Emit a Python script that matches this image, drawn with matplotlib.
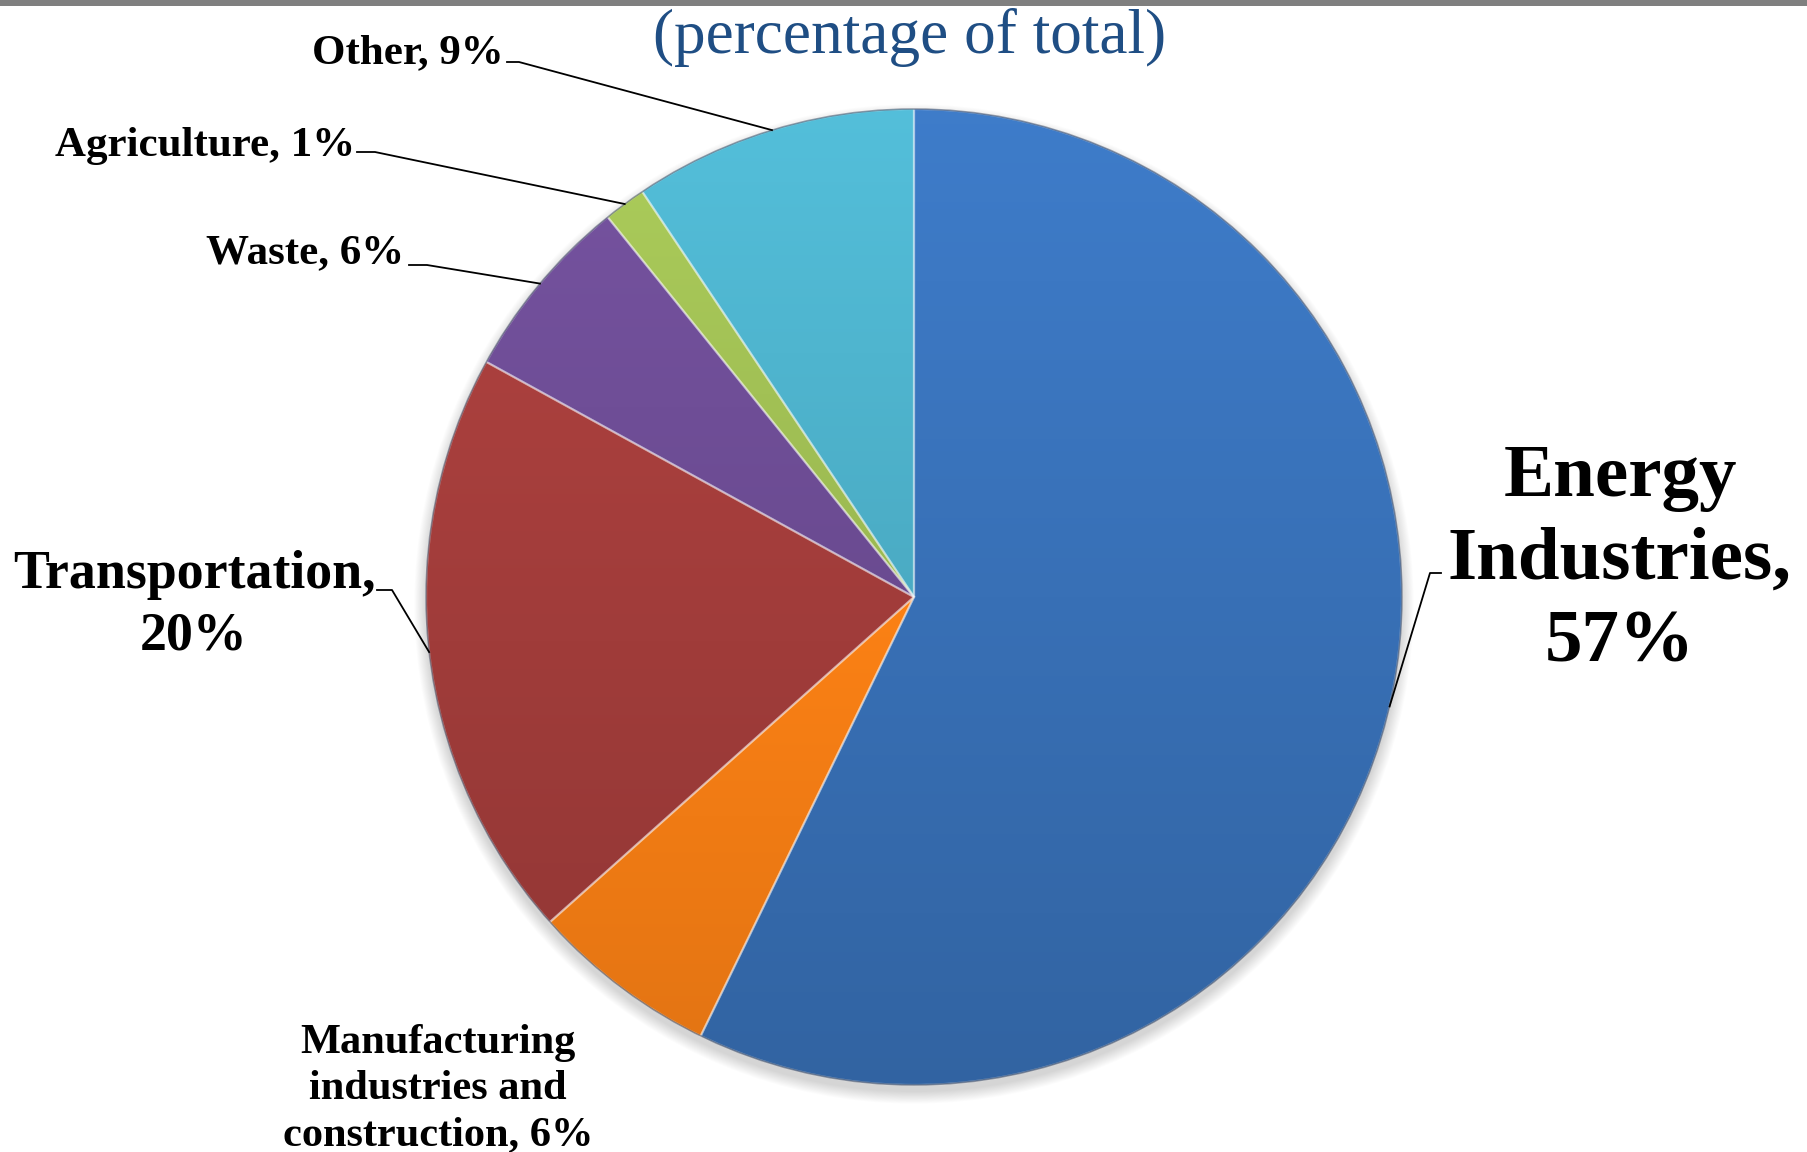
import numpy as np
import matplotlib.pyplot as plt
from matplotlib.colors import to_rgb
from matplotlib.patches import Circle, Rectangle

# share of emissions by sector (percentage of total)
sectors = ["Energy Industries", "Manufacturing industries and construction",
           "Transportation", "Waste", "Agriculture", "Other"]
shares = [57.2, 6.2, 19.6, 6.2, 1.4, 9.4]
colors = ["#3870B6", "#F07B14", "#A03C3A", "#6F4E97", "#A2C155", "#4FB5CF"]
title = "(percentage of total)"

W, H = 1808, 1152
plt.rcParams["font.family"] = "Liberation Serif"

fig = plt.figure(figsize=(W / 100, H / 100), dpi=100)
ax = fig.add_axes([0, 0, 1, 1])


def Y(y):
    return H - y


cx, cy, r = 914, Y(597), 488

# soft shadow under the pie
for k in range(14):
    ax.add_patch(Circle((cx, cy - 7), r + k * 0.9, color="k", alpha=0.012,
                        lw=0, zorder=0))

wedges, _ = ax.pie(shares, colors=colors, startangle=90, counterclock=False,
                   center=(cx, cy), radius=r,
                   wedgeprops=dict(edgecolor="none"))

# vertical gradient inside every slice, stronger for taller slices
grad = np.linspace(0, 1, 256)[:, None, None]
for w, c in zip(wedges, colors):
    base = np.array(to_rgb(c))
    bb = w.get_path().get_extents(w.get_patch_transform())
    span = 0.22 * bb.height / (2 * r)
    top = np.clip(base * (1.0 + span / 2), 0, 1)
    bot = base * (1.0 - span / 2)
    img = top * (1 - grad) + bot * grad
    im = ax.imshow(img, extent=[bb.x0, bb.x1, bb.y0, bb.y1], origin="upper",
                   interpolation="bilinear", zorder=2)
    im.set_clip_path(w)
    w.set_facecolor("none")
    w.set_edgecolor((1, 1, 1, 0.35))
    w.set_linewidth(1.6)
    w.set_zorder(3)

ax.add_patch(Circle((cx, cy), r, fc="none", ec=(0.15, 0.2, 0.3, 0.45), lw=1.2,
                    zorder=3))

# labels: (text, x, baseline y of last line, size, ha, leader start)
pct = [f"{v:.0f}%" for v in shares]
labels = [
    ("Energy\nIndustries,\n" + pct[0], 1620, 661, 54, "center", [(1441, 573), (1430, 573)]),
    ("Manufacturing\nindustries and\nconstruction, " + pct[1], 438, 1145, 30.5, "center", None),
    ("Transportation,\n" + pct[2], 194, 649, 38.8, "center", [(377, 590), (392, 590)]),
    ("Waste, " + pct[3], 404, 263, 31, "right", [(409, 265), (427, 265)]),
    ("Agriculture, " + pct[4], 355, 156, 31, "right", [(357, 152), (375, 152)]),
    ("Other, " + pct[5], 504, 63, 31, "right", [(507, 62), (519, 62)]),
]

for w, (txt, x, y, fs, ha, lead) in zip(wedges, labels):
    ax.text(x, Y(y), txt, ha=ha, va="baseline", fontsize=fs, fontweight="bold",
            linespacing=1.28, multialignment="center", zorder=5)
    if lead:
        mid = np.deg2rad((w.theta1 + w.theta2) / 2)
        ex, ey = cx + r * np.cos(mid), cy + r * np.sin(mid)
        xs = [p[0] for p in lead] + [ex]
        ys = [Y(p[1]) for p in lead] + [ey]
        ax.plot(xs, ys, color="k", lw=1.3, zorder=4)

ax.text(910, Y(53), title, ha="center", va="baseline", fontsize=45.5,
        color="#1F4E84", zorder=5)

# grey bar along the top edge
ax.add_patch(Rectangle((0, Y(6)), W, 6, color="#7F7F7F", lw=0, zorder=6))

ax.set_xlim(0, W)
ax.set_ylim(0, H)
ax.set_aspect("equal")
ax.set_axis_off()

fig.savefig("out.png", dpi=100)
